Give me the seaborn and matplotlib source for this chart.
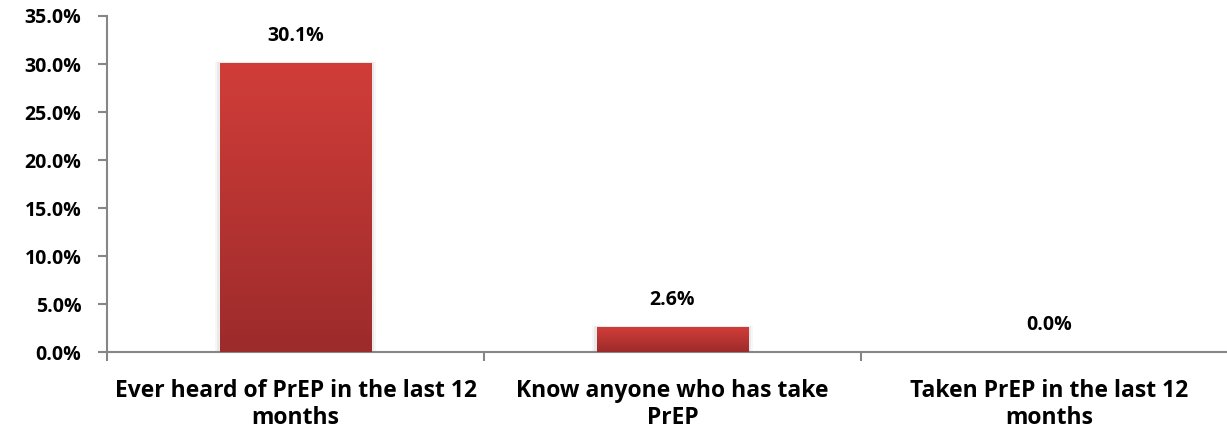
import numpy as np
import pandas as pd
import matplotlib
matplotlib.use("Agg")
import matplotlib.pyplot as plt
import seaborn as sns
from matplotlib.colors import LinearSegmentedColormap
from matplotlib.ticker import FuncFormatter, FixedLocator

categories = ["Ever heard of PrEP in the last 12\nmonths",
              "Know anyone who has take\nPrEP",
              "Taken PrEP in the last 12\nmonths"]
values = [30.1, 2.6, 0.0]
y_ticks = [0, 5, 10, 15, 20, 25, 30, 35]

sns.set_style("white")
plt.rcParams['font.family'] = ['Open Sans', 'DejaVu Sans']
plt.rcParams['font.weight'] = 'bold'

FS_Y = 14
FS_X = 16.5

df = pd.DataFrame({"cat": categories, "val": values})

fig = plt.figure(figsize=(12.27, 4.38), dpi=100)
ax = fig.add_axes([0.0872, 0.196, 0.9218, 0.7675])

sns.barplot(data=df, x="cat", y="val", color="#C53A36", width=0.403, ax=ax,
            saturation=1, edgecolor="none")

# gradient fill on bars
cmap = LinearSegmentedColormap.from_list("g", ["#9C2B2B", "#D13D39"])
grad = np.linspace(0, 1, 256).reshape(-1, 1)
for p in ax.patches:
    x0, y0 = p.get_x(), p.get_y()
    w, h = p.get_width(), p.get_height()
    if h <= 0:
        continue
    for k, a in [(0.012, 0.03), (0.006, 0.05)]:
        ax.bar(x0 + w / 2, h + 0.1, width=w + 2 * k, bottom=0, color="#000000",
               alpha=a, zorder=1, linewidth=0)
    im = ax.imshow(grad, extent=[x0, x0 + w, 0, h], origin="lower",
                   cmap=cmap, aspect="auto", zorder=3)
    im.set_clip_path(p)
    p.set_zorder(2)

ax.set_xlim(-0.5, 2.5)
ax.set_ylim(0, 35)

for i, v in enumerate(values):
    ax.annotate(f"{v:.1f}%", (i, v), xytext=(0, 12.5), textcoords="offset points",
                ha="center", va="bottom", fontsize=FS_Y, fontweight="bold",
                color="#000000")

ax.yaxis.set_major_locator(FixedLocator(y_ticks))
ax.yaxis.set_major_formatter(FuncFormatter(lambda v, p: f"{v:.1f}%"))
ax.set_xlabel("")
ax.set_ylabel("")

for s in ["top", "right"]:
    ax.spines[s].set_visible(False)
for s in ["left", "bottom"]:
    ax.spines[s].set_color("#868686")
    ax.spines[s].set_linewidth(1.5)

ax.tick_params(axis="y", which="major", direction="out", length=6.5, width=1.5,
               color="#868686", labelsize=FS_Y, left=True, pad=12)
ax.tick_params(axis="x", which="major", length=0, labelsize=FS_X, pad=19)
ax.set_xticks([-0.5, 0.5, 1.5, 2.5], minor=True)
ax.tick_params(axis="x", which="minor", direction="out", length=6.5, width=1.5,
               color="#868686", bottom=True)
for lab in ax.get_xticklabels() + ax.get_yticklabels():
    lab.set_fontweight("bold")
    lab.set_color("#000000")
for lab in ax.get_xticklabels():
    lab.set_linespacing(1.2)

fig.savefig("out.png", dpi=100)
